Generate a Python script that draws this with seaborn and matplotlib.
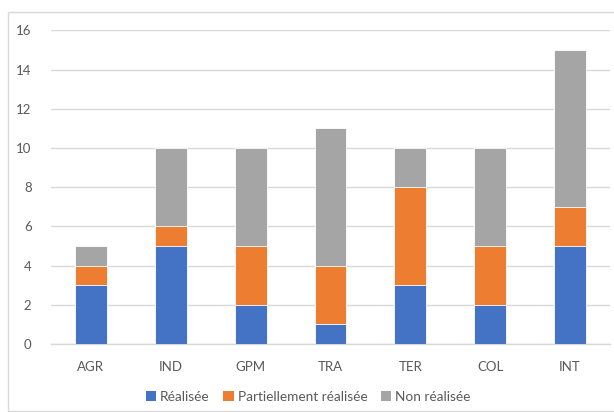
import matplotlib
matplotlib.use("Agg")
import matplotlib.pyplot as plt
import seaborn as sns
import pandas as pd
import numpy as np
from matplotlib.patches import Patch, Rectangle

categories = ["AGR", "IND", "GPM", "TRA", "TER", "COL", "INT"]
realisee = [3, 5, 2, 1, 3, 2, 5]
partielle = [1, 1, 3, 3, 5, 3, 2]
non_realisee = [1, 4, 5, 7, 2, 5, 8]
series_names = ["Réalisée", "Partiellement réalisée", "Non réalisée"]
colors = ["#4472C4", "#ED7D31", "#A5A5A5"]

sns.set_theme(style="white")
plt.rcParams["font.family"] = ["Lato", "DejaVu Sans"]
text_color = "#595959"

df = pd.DataFrame({"cat": categories, "r": realisee, "p": partielle, "n": non_realisee})
df["rp"] = df["r"] + df["p"]
df["total"] = df["rp"] + df["n"]

fig = plt.figure(figsize=(6.14, 4.12), dpi=100)
fig.patches.append(Rectangle((8/614, 1/412), 1.0, 399/412, transform=fig.transFigure,
                             fill=False, edgecolor="#D9D9D9", linewidth=1.0))
ax = fig.add_axes([51/614, 1 - 344/412, 559/614, (344 - 30.3)/412])

for col, c in [("total", colors[2]), ("rp", colors[1]), ("r", colors[0])]:
    sns.barplot(data=df, x="cat", y=col, color=c, width=0.4, saturation=1,
                edgecolor="white", linewidth=0.6, ax=ax, zorder=3)

ax.set_ylim(0, 16)
ax.set_yticks(np.arange(0, 17, 2))
ax.set_xlim(-0.5, len(categories) - 0.5)
ax.yaxis.grid(True, color="#D9D9D9", linewidth=1.0, zorder=0)
ax.set_axisbelow(True)
for s in ["left", "right", "top"]:
    ax.spines[s].set_visible(False)
ax.spines["bottom"].set_color("#D9D9D9")
ax.spines["bottom"].set_linewidth(1.0)
ax.set_xlabel("")
ax.set_ylabel("")
ax.tick_params(axis="both", length=0, colors=text_color, labelsize=9.5)
ax.tick_params(axis="x", pad=12)
ax.tick_params(axis="y", pad=14)

handles = [Patch(facecolor=c, edgecolor="none") for c in colors]
fig.legend(handles, series_names, loc="center", bbox_to_anchor=(0.502, 0.036),
           ncol=3, frameon=False, fontsize=9.8, labelcolor=text_color,
           handlelength=0.75, handleheight=0.75, handletextpad=0.3, columnspacing=1.0)

fig.savefig("out.png", dpi=100)
